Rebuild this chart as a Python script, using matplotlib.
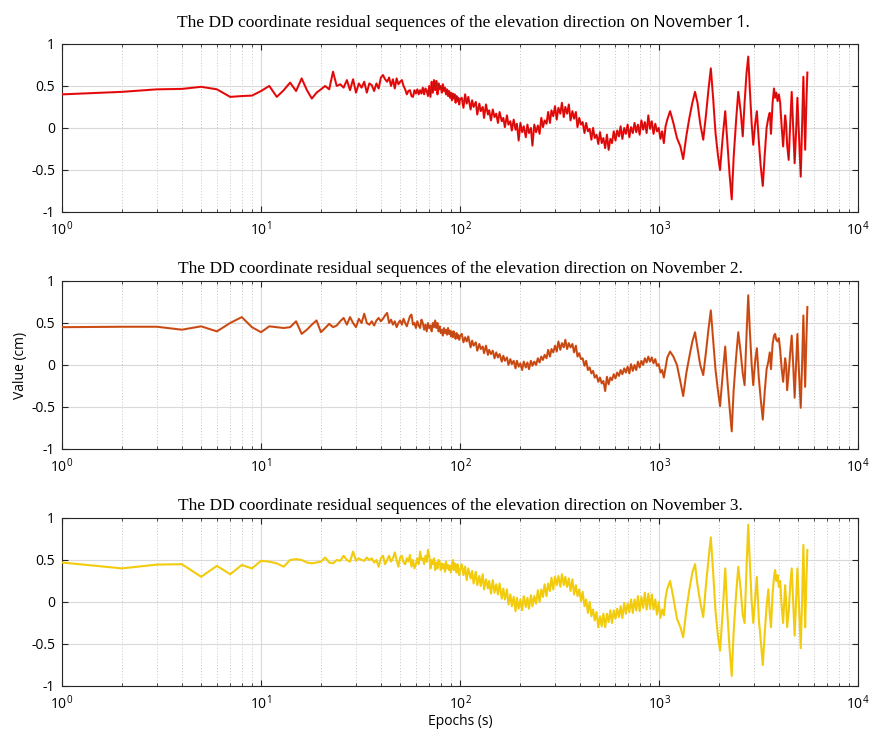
"""DD coordinate residuals (elevation) for three days, log-scaled epoch axis."""
import numpy as np
import matplotlib
matplotlib.use('Agg')
import matplotlib.pyplot as plt
from matplotlib.ticker import LogLocator, NullFormatter, MultipleLocator, FuncFormatter

plt.rcParams.update({
    'font.family': ['Open Sans', 'DejaVu Sans'],
    'font.size': 10,
    'axes.unicode_minus': False,
    'mathtext.fontset': 'custom',
    'mathtext.rm': 'Open Sans',
    'mathtext.it': 'Open Sans',
    'mathtext.bf': 'Open Sans',
})

# epochs 1..100 are every second; after that the series is kept at these epochs
tail_epochs = [
    102, 104, 106, 108, 110, 113, 115, 117, 120, 122,
    125, 127, 130, 132, 135, 138, 140, 143, 146, 149,
    152, 155, 158, 162, 165, 168, 172, 175, 179, 182,
    186, 190, 193, 197, 201, 205, 209, 214, 218, 222,
    227, 231, 236, 241, 246, 251, 256, 261, 266, 272,
    277, 283, 288, 294, 300, 306, 312, 319, 325, 332,
    338, 345, 352, 359, 367, 374, 382, 389, 397, 405,
    413, 422, 430, 439, 448, 457, 466, 475, 485, 495,
    505, 515, 525, 536, 547, 558, 569, 580, 592, 604,
    616, 629, 641, 654, 668, 681, 695, 709, 723, 738,
    753, 768, 783, 799, 815, 832, 848, 866, 883, 901,
    919, 938, 957, 976, 996, 1016, 1036, 1057, 1078, 1100,
    1136, 1180, 1230, 1280, 1322, 1370, 1420, 1470, 1516,
    1560, 1610, 1667, 1720, 1770, 1820, 1870, 1920, 1975, 2025,
    2090, 2150, 2200, 2260, 2318, 2370, 2440, 2500, 2570, 2633,
    2690, 2750, 2806, 2860, 2920, 2973, 3040, 3100, 3170, 3240,
    3320, 3400, 3470, 3540, 3600, 3650, 3720, 3780, 3830, 3880,
    3940, 4000, 4060, 4130, 4200, 4300, 4350, 4400, 4480, 4560,
    4640, 4720, 4800, 4880, 4955, 5050, 5150, 5230, 5310, 5370,
    5420, 5490, 5560,
]
epochs = np.concatenate([np.arange(1, 101), tail_epochs])

nov1 = [
    0.40, 0.43, 0.46, 0.465, 0.49, 0.46, 0.37, 0.38, 0.385, 0.44,
    0.50, 0.37, 0.45, 0.54, 0.44, 0.59, 0.45, 0.35, 0.42, 0.46,
    0.50, 0.46, 0.67, 0.50, 0.52, 0.48, 0.57, 0.45, 0.58, 0.42,
    0.53, 0.48, 0.55, 0.42, 0.53, 0.51, 0.44, 0.53, 0.47, 0.60,
    0.63, 0.58, 0.55, 0.60, 0.50, 0.58, 0.47, 0.59, 0.52, 0.55,
    0.57, 0.50, 0.46, 0.40, 0.44, 0.45, 0.38, 0.37, 0.45, 0.41,
    0.46, 0.40, 0.45, 0.41, 0.48, 0.40, 0.47, 0.44, 0.38, 0.50,
    0.37, 0.55, 0.42, 0.57, 0.45, 0.56, 0.40, 0.53, 0.46, 0.50,
    0.42, 0.52, 0.44, 0.48, 0.40, 0.46, 0.38, 0.44, 0.36, 0.42,
    0.33, 0.41, 0.35, 0.40, 0.30, 0.38, 0.32, 0.36, 0.28, 0.34,
    # 102 s onwards
    0.36, 0.24, 0.40, 0.29, 0.37, 0.22, 0.33, 0.25, 0.31, 0.16,
    0.29, 0.20, 0.25, 0.12, 0.28, 0.16, 0.21, 0.09, 0.22, 0.13,
    0.17, 0.06, 0.19, 0.08, 0.12, 0.01, 0.15, 0.04, 0.08, -0.03,
    0.10, -0.02, 0.05, -0.15, 0.06, -0.05, 0.02, -0.11, 0.04, -0.06,
    0.00, -0.21, 0.04, -0.05, 0.03, -0.07, 0.12, 0.01, 0.09, 0.05,
    0.19, 0.06, 0.21, 0.14, 0.26, 0.10, 0.24, 0.17, 0.30, 0.13,
    0.25, 0.17, 0.28, 0.09, 0.20, 0.11, 0.19, 0.01, 0.12, 0.04,
    0.07, -0.06, 0.06, -0.04, -0.01, -0.14, 0.00, -0.12, -0.08, -0.19,
    -0.05, -0.18, -0.12, -0.24, -0.08, -0.26, -0.13, -0.18, -0.04, -0.15,
    -0.03, -0.10, 0.02, -0.13, 0.00, -0.07, 0.04, -0.11, 0.01, -0.06,
    0.06, -0.05, 0.04, -0.08, 0.09, -0.02, 0.07, -0.06, 0.15, -0.01,
    0.08, -0.07, 0.05, -0.04, 0.00, -0.13, -0.04, -0.18, 0.02, 0.10,
    0.20, 0.06, -0.12, -0.22, -0.37, -0.10, 0.12, 0.30, 0.43,
    0.30, 0.05, -0.14, 0.15, 0.45, 0.71, 0.35, -0.05, -0.32, -0.50,
    -0.10, 0.20, -0.15, -0.55, -0.85, -0.35, 0.10, 0.43, 0.20, -0.10,
    0.30, 0.65, 0.85, 0.45, 0.05, -0.20, 0.05, 0.20, -0.15, -0.45,
    -0.69, -0.30, 0.00, 0.12, 0.18, -0.07, 0.30, 0.47, 0.36, 0.42,
    0.32, 0.40, 0.30, 0.02, -0.22, 0.15, 0.05, -0.20, -0.38, 0.05,
    0.43, 0.00, -0.42, -0.05, 0.36, -0.10, -0.58, 0.00, 0.61, 0.15,
    -0.26, 0.25, 0.66,
]

nov2 = [
    0.45, 0.455, 0.455, 0.42, 0.46, 0.40, 0.50, 0.57, 0.45, 0.39,
    0.46, 0.45, 0.44, 0.45, 0.52, 0.37, 0.42, 0.48, 0.53, 0.39,
    0.44, 0.49, 0.45, 0.47, 0.52, 0.56, 0.48, 0.57, 0.50, 0.45,
    0.55, 0.50, 0.61, 0.50, 0.48, 0.52, 0.47, 0.53, 0.56, 0.52,
    0.55, 0.59, 0.62, 0.50, 0.54, 0.48, 0.52, 0.45, 0.50, 0.53,
    0.48, 0.55, 0.50, 0.46, 0.52, 0.58, 0.60, 0.48, 0.50, 0.44,
    0.52, 0.47, 0.44, 0.54, 0.50, 0.42, 0.48, 0.40, 0.50, 0.44,
    0.47, 0.40, 0.50, 0.45, 0.53, 0.44, 0.50, 0.40, 0.46, 0.38,
    0.42, 0.35, 0.44, 0.38, 0.42, 0.36, 0.44, 0.37, 0.41, 0.34,
    0.40, 0.33, 0.40, 0.36, 0.31, 0.38, 0.32, 0.36, 0.30, 0.34,
    # 102 s onwards
    0.37, 0.27, 0.33, 0.28, 0.34, 0.21, 0.29, 0.23, 0.27, 0.17,
    0.25, 0.19, 0.22, 0.14, 0.23, 0.12, 0.18, 0.13, 0.17, 0.08,
    0.15, 0.09, 0.13, 0.04, 0.11, 0.05, 0.09, 0.00, 0.07, 0.01,
    0.05, -0.04, 0.05, -0.02, 0.02, -0.06, 0.04, -0.03, 0.03, -0.05,
    0.05, -0.01, 0.04, 0.00, 0.08, 0.03, 0.10, 0.06, 0.12, 0.08,
    0.18, 0.10, 0.19, 0.15, 0.23, 0.16, 0.28, 0.18, 0.26, 0.21,
    0.30, 0.19, 0.26, 0.21, 0.25, 0.15, 0.23, 0.10, 0.14, 0.07,
    0.08, -0.01, 0.05, -0.06, -0.03, -0.10, -0.07, -0.15, -0.12, -0.20,
    -0.15, -0.22, -0.19, -0.31, -0.14, -0.23, -0.15, -0.18, -0.11, -0.16,
    -0.09, -0.13, -0.06, -0.11, -0.04, -0.09, -0.02, -0.10, 0.01, -0.07,
    0.00, -0.06, 0.04, -0.03, 0.05, 0.00, 0.08, 0.03, 0.10, 0.04,
    0.09, 0.02, 0.07, -0.01, 0.01, -0.09, -0.06, -0.15, -0.03, 0.09,
    0.16, 0.10, 0.00, -0.20, -0.37, -0.10, 0.10, 0.28, 0.39,
    0.20, 0.00, -0.12, 0.15, 0.42, 0.65, 0.30, -0.05, -0.30, -0.49,
    -0.10, 0.22, -0.15, -0.50, -0.79, -0.30, 0.10, 0.39, 0.15, -0.10,
    -0.24, 0.35, 0.83, 0.40, 0.00, -0.24, 0.05, 0.20, -0.15, -0.40,
    -0.65, -0.30, -0.05, 0.04, 0.15, -0.05, 0.25, 0.35, 0.37, 0.30,
    0.28, 0.32, 0.18, -0.04, -0.20, 0.08, 0.00, -0.30, -0.10, 0.15,
    0.35, 0.00, -0.39, 0.00, 0.37, -0.10, -0.51, 0.00, 0.59, 0.15,
    -0.26, 0.25, 0.69,
]

nov3 = [
    0.47, 0.40, 0.445, 0.45, 0.30, 0.43, 0.33, 0.44, 0.40, 0.49,
    0.48, 0.46, 0.42, 0.50, 0.51, 0.50, 0.47, 0.46, 0.47, 0.48,
    0.53, 0.47, 0.46, 0.50, 0.49, 0.55, 0.50, 0.48, 0.60, 0.49,
    0.52, 0.50, 0.49, 0.53, 0.50, 0.52, 0.47, 0.50, 0.42, 0.52,
    0.55, 0.45, 0.50, 0.55, 0.48, 0.52, 0.59, 0.50, 0.42, 0.53,
    0.55, 0.47, 0.45, 0.52, 0.48, 0.56, 0.42, 0.50, 0.40, 0.45,
    0.52, 0.45, 0.60, 0.50, 0.52, 0.45, 0.55, 0.48, 0.62, 0.55,
    0.40, 0.50, 0.45, 0.52, 0.38, 0.47, 0.40, 0.50, 0.48, 0.38,
    0.46, 0.40, 0.45, 0.36, 0.48, 0.40, 0.44, 0.38, 0.43, 0.35,
    0.45, 0.50, 0.38, 0.46, 0.40, 0.35, 0.45, 0.40, 0.32, 0.38,
    # 102 s onwards
    0.45, 0.32, 0.42, 0.26, 0.40, 0.28, 0.37, 0.22, 0.36, 0.20,
    0.31, 0.19, 0.33, 0.15, 0.27, 0.16, 0.25, 0.10, 0.26, 0.11,
    0.21, 0.09, 0.22, 0.04, 0.16, 0.03, 0.15, -0.03, 0.09, -0.05,
    0.06, -0.11, 0.05, -0.08, 0.03, -0.10, 0.07, -0.06, 0.05, -0.08,
    0.08, -0.05, 0.07, -0.02, 0.14, 0.00, 0.15, 0.06, 0.21, 0.07,
    0.22, 0.13, 0.29, 0.15, 0.30, 0.20, 0.31, 0.18, 0.33, 0.20,
    0.30, 0.18, 0.28, 0.13, 0.27, 0.09, 0.20, 0.07, 0.15, 0.01,
    0.12, -0.05, 0.03, -0.13, 0.00, -0.17, -0.09, -0.22, -0.12, -0.30,
    -0.17, -0.29, -0.14, -0.30, -0.14, -0.24, -0.10, -0.25, -0.10, -0.20,
    -0.08, -0.18, -0.05, -0.19, -0.01, -0.14, -0.02, -0.12, 0.03, -0.13,
    0.03, -0.10, 0.07, -0.11, 0.06, -0.07, 0.11, -0.09, 0.10, -0.08,
    0.09, -0.09, 0.03, -0.15, 0.00, -0.19, -0.09, -0.16, 0.05, 0.16,
    0.25, 0.05, -0.20, -0.30, -0.42, -0.10, 0.15, 0.35, 0.45,
    0.20, 0.00, -0.18, 0.20, 0.50, 0.77, 0.35, -0.10, -0.40, -0.58,
    -0.10, 0.40, -0.10, -0.55, -0.88, -0.35, 0.10, 0.42, 0.15, -0.15,
    -0.25, 0.40, 0.92, 0.45, 0.00, -0.25, 0.05, 0.30, -0.20, -0.45,
    -0.75, -0.35, -0.05, 0.15, -0.15, -0.30, 0.10, 0.30, 0.38, 0.25,
    0.32, 0.18, 0.25, -0.05, -0.25, 0.20, 0.00, -0.30, -0.12, 0.20,
    0.40, 0.00, -0.40, 0.00, 0.40, -0.05, -0.55, 0.00, 0.68, 0.15,
    -0.30, 0.20, 0.62,
]

days = ['November 1', 'November 2', 'November 3']
series = [nov1, nov2, nov3]
line_colors = ['#ff1010', '#d95319', '#f2cc0c']
core_colors = ['#5a0a0a', '#8a3510', None]

TITLE = 'The DD coordinate residual sequences of the elevation direction'

fig = plt.figure(figsize=(8.7, 7.34), dpi=100)
bottoms = [0.7112, 0.3883, 0.0654]

for i, (day, vals) in enumerate(zip(days, series)):
    assert len(vals) == len(epochs), (day, len(vals), len(epochs))
    ax = fig.add_axes([0.0713, bottoms[i], 0.915, 0.2289])
    ax.plot(epochs, vals, color=line_colors[i], lw=1.5, zorder=3)
    if core_colors[i]:
        ax.plot(epochs, vals, color=core_colors[i], lw=0.4, alpha=0.55, zorder=4)

    ax.set_xscale('log')
    ax.set_xlim(1, 1e4)
    ax.set_ylim(-1, 1)
    ax.xaxis.set_major_locator(LogLocator(base=10, numticks=10))
    ax.xaxis.set_minor_locator(LogLocator(base=10, subs=np.arange(2, 10), numticks=20))
    ax.xaxis.set_minor_formatter(NullFormatter())
    ax.yaxis.set_major_locator(MultipleLocator(0.5))
    ax.yaxis.set_major_formatter(FuncFormatter(lambda v, p: f'{v:g}'))

    ax.grid(True, which='major', color='#d9d9d9', lw=0.8, ls='-')
    ax.grid(True, which='minor', axis='x', color='#c8c8c8', lw=0.7, ls=(0, (1, 2)))
    ax.set_axisbelow(True)
    ax.tick_params(which='both', direction='in', top=True, right=True,
                   color='#262626', labelsize=10)
    ax.tick_params(axis='x', which='major', pad=6)
    ax.tick_params(axis='y', which='major', pad=5)
    ax.tick_params(which='major', length=4)
    ax.tick_params(which='minor', length=2)
    for sp in ax.spines.values():
        sp.set_color('#262626')
        sp.set_linewidth(0.8)

    if i == 0:
        # serif heading with the date part set in sans
        ax.text(0.713, 1.075, TITLE + ' ', transform=ax.transAxes, ha='right',
                va='bottom', family='Liberation Serif', fontsize=12.5)
        ax.text(0.713, 1.075, 'on ' + day + '.', transform=ax.transAxes, ha='left',
                va='bottom', family='Open Sans', fontsize=11.5)
    else:
        ax.set_title(f'{TITLE} on {day}.', family='Liberation Serif',
                     fontsize=12.5, pad=6)
    if i == 1:
        ax.set_ylabel('Value (cm)', fontsize=10, labelpad=2)
    if i == 2:
        ax.set_xlabel('Epochs (s)', fontsize=10, labelpad=1)

fig.savefig('out.png', dpi=100)
